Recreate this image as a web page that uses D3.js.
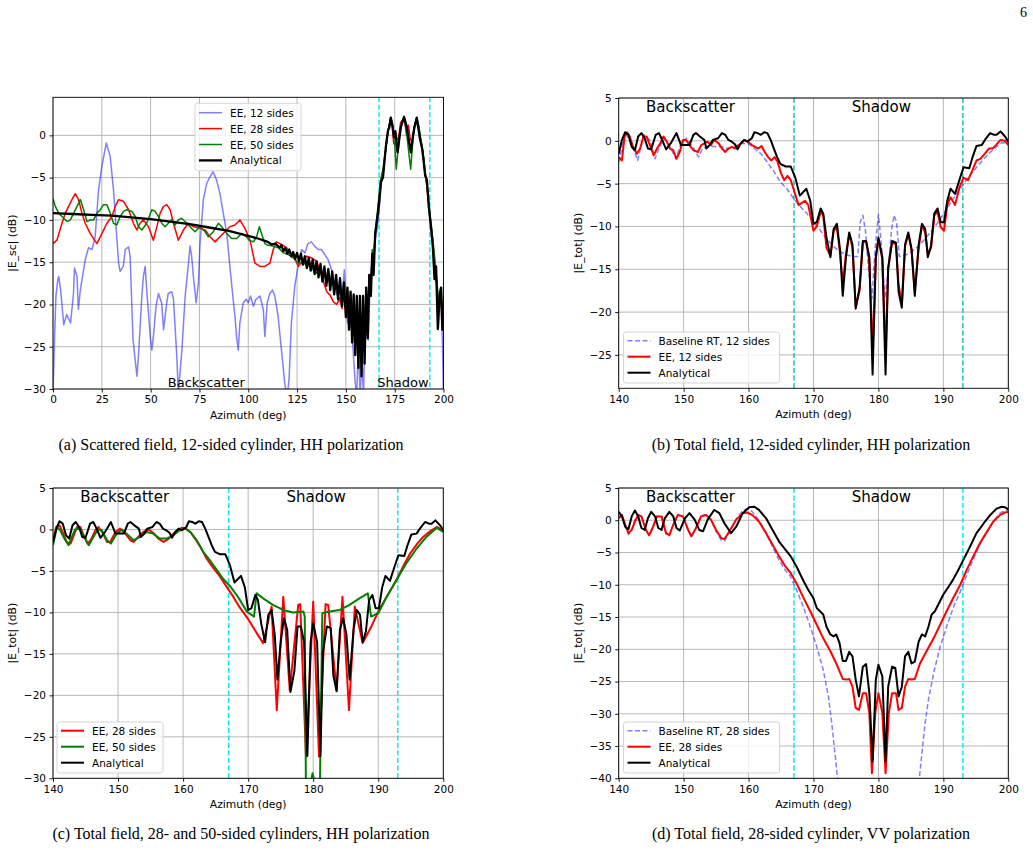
<!DOCTYPE html>
<html>
<head>
<meta charset="utf-8">
<script src="https://cdn.jsdelivr.net/npm/d3@7"></script>
<style>
  body { margin: 0; background: #fff; }
  svg { display: block; }
  text { font-family: "DejaVu Sans", sans-serif; fill: #000; }
  .cap { font-family: "Liberation Serif", "Times New Roman", serif; }
</style>
</head>
<body>
<div id="fig"></div>
<script>
// ---- data: [azimuth deg, dB] ----
const aEE12 = [[0,-30.5],[0.8,-24],[1.5,-19],[2.5,-17],[3,-16.7],[4,-18.5],[5.5,-22.4],[7,-21.2],[9,-22.2],[10.5,-18.7],[11,-15.7],[12.3,-16.7],[13,-20.6],[14,-18.3],[16.5,-14.7],[18.2,-13.3],[20,-13.5],[21.6,-12],[23.3,-6.5],[25,-3.7],[27.3,-0.9],[29.3,-2.5],[31,-6.5],[32.4,-11.2],[33.6,-15.1],[34.4,-16.1],[36,-15.5],[37,-13.5],[38.7,-13.2],[39.5,-14.3],[41,-24.2],[43,-28.5],[43.8,-26],[45.5,-19],[46.3,-16.7],[47.2,-15.5],[48,-18.3],[49.8,-23.8],[50.6,-25.4],[51.4,-23.8],[52.8,-20.2],[54,-18.7],[55.7,-19.9],[56.6,-23],[58.2,-19.9],[59,-18.7],[60.8,-18.5],[61.7,-19.4],[63.4,-26.1],[64.2,-30.5],[66,-25.4],[67.7,-19],[69.4,-15.1],[70.2,-13.1],[71,-14.3],[71.9,-16.7],[73.3,-19.8],[74.5,-17.5],[75.3,-12.8],[77,-7.6],[78.7,-5.7],[80.4,-4.9],[82,-4.3],[83.8,-5.3],[85.5,-6.9],[87.2,-9.2],[89,-11.6],[90.6,-15.5],[92.3,-19.5],[93.2,-21.4],[94,-23.8],[94.9,-25.4],[95.7,-22.2],[97.4,-19.8],[99,-19.4],[100,-19.8],[101.2,-19],[102.6,-20.2],[103.9,-19.4],[106,-19],[107.7,-20.6],[108.5,-23.8],[109.7,-19.8],[111.1,-18.7],[112.4,-18.3],[113.6,-19],[115.3,-21.4],[117,-25.4],[118.7,-29.3],[119.9,-31],[120.9,-28.9],[122.1,-22.2],[123.8,-17.9],[125.5,-15.5],[127.3,-13.5],[129,-13.9],[130.6,-12.8],[132.3,-12.6],[134,-13.1],[135.8,-13.5],[137.5,-13.5],[139.2,-14.1],[140.9,-14.7],[142.7,-15.9],[143.9,-17.1],[145.3,-18.7],[147,-19.8],[148.4,-18.3],[149.2,-15.9],[150.1,-19],[150.8,-22.2],[151.8,-19.8],[153,-23],[153.9,-26.1],[154.8,-29.3],[155.5,-31],[156.5,-24.6],[157.3,-31],[158.2,-26.1],[159,-31],[159.8,-22.2],[160.7,-19],[161.5,-24.2],[162.5,-16.7],[164.2,-13.5],[165.9,-11.2],[167.2,-8.5],[168,-5.5],[169,-5],[170,-2.5],[171,-0.5],[172,1],[173,2.1],[174,1],[175,-0.5],[176,-1.8],[177,-1.5],[178,1],[179.8,2],[181,0],[182,1],[183,-1.8],[184,-1.2],[185,1],[186.3,2],[187.3,1],[188.3,-0.5],[189.5,-2],[190.5,-4.5],[191.5,-5.5],[192.5,-8.5],[193.5,-11],[194.5,-13],[195.5,-16],[196.5,-18],[197.3,-23],[198,-19],[198.8,-20],[199.4,-24],[200,-31]];

const aEE28 = [[0,-12.8],[2,-12.4],[4.6,-10.4],[6.3,-9.2],[8,-8.4],[9.7,-7.6],[11.4,-6.9],[13.1,-7.6],[14.8,-9.2],[16.5,-10.4],[19,-11.6],[22.5,-12.8],[24.2,-12],[25.9,-11.2],[27.6,-10.4],[30.2,-9.6],[31.9,-8.4],[33.6,-7.6],[36.1,-7.8],[38.7,-8.8],[41.2,-10.4],[43,-11.2],[44.6,-10.4],[46.3,-10],[48.9,-10.8],[51.4,-12.4],[53.2,-10.8],[54.9,-9.2],[56.6,-8.4],[58.3,-8.2],[60,-8.8],[61.7,-10.4],[64.2,-12.4],[66.8,-11.2],[69.3,-10.4],[71.9,-10.8],[75.3,-11],[77.9,-11.2],[80.4,-12],[83,-12.6],[85.5,-12],[88.1,-11.4],[90.6,-10.8],[93.2,-10.6],[95.7,-10],[98.3,-11],[100.9,-12.4],[103.4,-15.1],[106,-15.5],[108.5,-15.5],[111.1,-15.1],[112.8,-13.5],[114.5,-12.6],[116.2,-12.8],[117.9,-13],[119.7,-13.3],[121.4,-13.9],[124,-14.7],[125.7,-15.5],[127.3,-15],[129.9,-14.3],[132.5,-14.5],[135.1,-14.9],[136.8,-16.1],[138.5,-17.3],[140.2,-18.5],[141.9,-18.9],[143.6,-19.7],[145.3,-20],[147,-19.2],[148,-20.5],[149,-18.5],[150,-21],[150.8,-18.5],[151.6,-22],[152.4,-19],[153.2,-23.5],[154,-19],[154.8,-25],[155.6,-19.5],[156.4,-26],[157.2,-19.3],[158,-27],[158.8,-19],[159.6,-25],[160.4,-18],[161.2,-22],[162,-16.5],[162.8,-18.5],[163.5,-14],[164.2,-15.5],[165,-11.7],[166,-10],[167,-7.5],[168,-5.5],[169,-4.5],[170,-2.5],[171,-0.5],[172,1],[173,2],[173.8,1],[174.5,-1],[175.3,0.5],[176.2,-0.5],[177,-0.3],[178,1.5],[179.8,2.1],[181,0.5],[182,1.2],[183,-0.5],[184,-0.8],[185,1],[186.3,2],[187.3,1],[188.3,-0.5],[189.5,-2],[190.5,-4.5],[191.5,-6],[192.5,-8.5],[193.5,-10.5],[194.5,-12.5],[195.5,-15],[196.5,-17.5],[197.5,-20],[198.5,-18.5],[199.3,-22],[200,-20.5]];

const aEE50 = [[0,-7.5],[1.2,-8.4],[2.9,-9.2],[5.5,-9.8],[7.2,-10.2],[8.9,-10],[10.6,-9.2],[12.3,-8.4],[14,-7.6],[15.7,-8.8],[17.4,-10.2],[19.1,-10],[20.8,-10],[22.5,-9.2],[24.2,-8.8],[25.9,-8.2],[27.6,-8.2],[29.3,-9.2],[31,-10.4],[32.7,-10.6],[34.4,-9.6],[36.1,-9],[37.8,-8.8],[40.4,-9],[42.1,-9.6],[43.8,-10.8],[45.5,-11.2],[48,-10.4],[50.6,-8.8],[52.3,-9],[54,-9.6],[55.7,-10.4],[57.4,-10.8],[59.1,-10.4],[60.8,-10],[62.5,-10.6],[64.2,-10],[65.9,-9.8],[67.6,-10.2],[70.2,-10.8],[72.7,-11.4],[75.3,-10.8],[77.9,-11.4],[79.6,-12],[82.1,-11.4],[84.7,-10.4],[86.4,-10.8],[89,-11.6],[91.5,-12.2],[94.1,-12.2],[96.6,-11.6],[99.1,-12],[100.5,-12.4],[102.6,-12.6],[104.3,-12],[105.7,-10.8],[106.8,-11.6],[108.5,-12.8],[110.2,-13],[112.8,-13.1],[115.4,-13.3],[118,-13.9],[120.5,-14.1],[123.1,-14.5],[125.7,-15.1],[128.2,-15.1],[131.6,-15.5],[135.1,-16.3],[137,-15.5],[138,-17],[139,-15.8],[140,-17.5],[141,-16],[142,-18],[143,-16.3],[144,-18.6],[145,-16.6],[146,-19.2],[147,-17],[148,-20],[149,-17.5],[150,-21],[150.8,-18],[151.6,-22.5],[152.4,-18.5],[153.2,-24],[154,-18.8],[154.8,-25.5],[155.6,-19],[156.4,-26.5],[157.2,-19],[158,-27.5],[158.8,-19],[159.6,-26],[160.4,-18],[161.2,-23],[162,-16.5],[162.8,-18.5],[163.5,-13.5],[164.2,-15.5],[165,-11.5],[166,-9.5],[167,-7],[168,-5],[169,-4],[170,-2.3],[171,-0.5],[172,1],[173,2.1],[174,1.2],[175,-1],[175.8,-4],[176.6,-2],[177.6,0.5],[178.6,1.5],[179.8,2.1],[181,0.5],[182.2,-2],[183.2,-4],[184,-1.5],[185,1],[186.3,2.1],[187.3,1.2],[188.3,-0.3],[189.5,-2],[190.5,-4],[191.5,-6],[192.5,-8],[193.5,-10.2],[194.5,-12.2],[195.5,-14.5],[196.5,-17],[197.5,-19.5],[198.5,-18],[199.3,-21],[200,-19]];

const aAnalytical = [[0,-9.2],[10,-9.3],[20,-9.4],[30,-9.5],[40,-9.7],[50,-9.9],[60,-10.2],[70,-10.5],[80,-10.9],[90,-11.3],[100,-11.9],[105,-12.2],[110,-12.6],[112,-12.9],[114,-12.8],[116,-13.3],[117,-13.0],[118,-13.7],[119,-13.3],[120,-14.0],[121,-13.5],[122,-14.3],[123,-13.8],[124,-14.6],[125,-13.9],[126,-14.9],[127,-14.0],[128,-15.3],[129,-14.3],[130,-15.7],[131,-14.5],[132,-16.0],[133,-14.7],[134,-16.4],[135,-14.9],[136,-16.8],[137,-15.2],[138,-17.3],[139,-15.5],[140,-17.8],[141,-15.8],[142,-18.3],[143,-16.1],[144,-18.8],[145,-16.5],[146,-19.4],[147,-16.9],[148,-20.2],[149,-17.4],[150,-21.5],[150.8,-18],[151.6,-23],[152.4,-18.5],[153.2,-24.5],[154,-18.8],[154.8,-26],[155.6,-19],[156.4,-27.5],[157.2,-19],[158,-28.5],[158.8,-19],[159.6,-27],[160.4,-18],[161.2,-24],[162,-16.5],[162.8,-19],[163.5,-14],[164.2,-16.5],[165,-11.7],[165.8,-10.2],[166.5,-9],[167.2,-7.5],[168,-5.5],[169,-5],[169.8,-3],[170.5,-1.3],[171.5,0.5],[172.3,1],[173,2.1],[173.8,1.2],[174.6,-0.2],[175.3,0.5],[176.5,-2],[177.3,-0.5],[178.2,1],[179.8,2.2],[181.2,1],[182.1,-0.5],[183.3,-2],[184.2,-0.3],[185,0.8],[186.3,2.1],[187,1],[188,-0.5],[189,-1.5],[189.8,-3],[190.6,-4.7],[191.5,-5.3],[192.5,-8.5],[193.2,-10],[193.9,-11.5],[194.6,-13.4],[195.4,-17],[196.2,-15.5],[197.1,-22.9],[198,-19],[198.8,-18],[199.4,-23],[200,-20]];

// HH analytical total field (same curve in panels b and c)
const analyticalHH = [[140,-1.5],[140.5,0.1],[141,1.0],[141.5,0.7],[142,-0.7],[142.5,-1.1],[143,0.5],[143.5,0.9],[144,0.3],[144.5,-0.9],[145,-1.0],[145.7,0.7],[146.2,0.9],[146.7,0.1],[147.3,-1.0],[148,-0.3],[148.9,0.9],[149.6,-0.5],[150.4,-0.5],[150.9,-0.5],[151.5,0.7],[151.9,0.9],[152.5,0.5],[153.2,0.1],[153.5,-0.9],[154,-0.5],[154.5,0.1],[155.3,0.3],[155.9,0.9],[156.4,0.7],[156.9,0.1],[157.4,-0.1],[157.9,-0.4],[158.3,-1.0],[158.8,-0.3],[159.3,0.1],[159.8,-0.1],[160.5,0.3],[160.9,1.0],[161.4,0.9],[161.9,0.7],[162.4,1.0],[162.9,0.9],[163.4,0.1],[163.9,-0.9],[164.4,-1.9],[164.9,-2.7],[165.7,-3.0],[166.5,-3.0],[167.2,-4.3],[167.9,-6.4],[168.9,-5.6],[169.5,-7],[170,-9.7],[170.5,-9.5],[171.1,-7.9],[171.5,-8.5],[172,-11.3],[172.6,-13.6],[173.1,-10.3],[173.6,-9.7],[174.1,-12.8],[174.5,-18.1],[175,-13.6],[175.5,-10.7],[176,-12.1],[176.5,-19.6],[177.1,-17.1],[177.6,-11.7],[178.1,-11.7],[178.6,-13.6],[179.1,-27.3],[179.6,-13.6],[180,-11.3],[180.6,-13.6],[181.1,-27.3],[181.5,-14.8],[182.1,-11.7],[182.7,-11.9],[183.1,-17.6],[183.6,-19.5],[184.1,-12.1],[184.6,-10.7],[185.1,-12.6],[185.6,-18.1],[186.2,-12.1],[186.7,-9.7],[187.2,-10.3],[187.6,-13.6],[188.1,-12.3],[188.6,-8.5],[189.1,-7.9],[189.6,-9.5],[190.1,-9.5],[190.6,-7],[191.1,-5.6],[191.8,-6.2],[192.5,-4.5],[193.1,-3.1],[194,-3.2],[194.5,-1.9],[195.1,-0.6],[195.9,-0.5],[196.4,0.1],[197.2,0.9],[197.8,0.7],[198.2,0.7],[198.8,1.1],[199.5,0.5],[200,-0.1]];

const bBaseline12 = [[140,-2.5],[141,0.9],[142,-0.3],[142.9,-2.3],[143.9,0.7],[144.8,0.1],[145.6,-2.1],[146.3,-0.7],[147.1,0.3],[147.9,-0.7],[148.8,-2.1],[149.6,-0.3],[150.4,0.3],[151.4,-0.7],[152.3,-1.9],[152.9,-0.9],[153.9,-0.6],[154.9,-0.7],[155.9,-0.7],[156.9,-0.9],[157.9,-0.7],[158.9,-0.3],[159.9,-0.3],[160.9,-0.9],[161.9,-1.5],[162.9,-2.5],[163.9,-3.6],[164.9,-4.8],[165.9,-5.6],[167,-6.8],[168,-7.7],[169,-8.5],[170,-9.5],[171,-10.4],[172,-11.4],[173,-12.3],[174,-12.9],[175,-13.3],[176,-13.5],[176.8,-13.5],[177.2,-9.5],[177.6,-8.7],[178,-10.5],[178.5,-15.2],[179,-18.4],[179.5,-12.5],[180,-8.6],[180.5,-12.5],[181,-18.4],[181.5,-15.2],[182,-10.5],[182.4,-8.7],[182.8,-9.5],[183.2,-13.5],[184,-13.4],[185,-13],[186,-12.4],[187,-11.6],[188,-10.7],[189,-9.7],[190,-8.6],[191,-7.4],[192,-6.2],[193,-5.2],[194,-4.1],[195,-3.2],[196,-2.3],[197,-1.5],[198,-0.8],[199,-0.2],[200,-0.3]];

const bEE12 = [[140,-1.9],[140.5,-2.3],[140.9,0.5],[141.3,1.0],[141.7,0.5],[142.2,-0.7],[142.8,-1.5],[143.3,-0.9],[143.8,0.5],[144.3,0.5],[144.9,-0.7],[145.4,-1.7],[145.9,-0.9],[146.4,-0.3],[146.9,0.5],[147.4,-0.1],[147.9,-0.9],[148.4,-1.1],[148.9,-2.1],[149.4,-1.3],[149.9,0.1],[150.4,0.1],[150.9,-0.5],[151.5,-1.1],[152.2,-1.3],[152.7,-0.5],[153.2,-0.3],[153.7,-0.1],[154.2,-0.5],[154.7,0.1],[155.4,-0.3],[155.9,-0.9],[156.4,-1.3],[156.9,-0.9],[157.4,-0.7],[157.9,-0.9],[158.4,-0.5],[158.9,-0.3],[159.4,0.1],[159.9,-0.1],[160.5,-0.5],[161,-0.7],[161.5,-0.9],[162,-0.6],[162.5,-1.3],[163,-1.9],[163.5,-2.3],[164,-1.9],[164.5,-2.5],[165,-3.8],[165.5,-4.6],[166,-4.1],[166.5,-4.6],[167,-5.8],[167.7,-7.5],[168.7,-7],[169.2,-7.5],[170,-10.5],[170.5,-10],[171.1,-8.3],[171.5,-8.7],[172,-12.5],[172.6,-13.4],[173.1,-10.5],[173.6,-10.1],[174.1,-13.2],[174.5,-16.7],[175,-13.2],[175.5,-10.9],[176,-12.5],[176.5,-19.4],[177.1,-17.5],[177.6,-11.9],[178.1,-11.7],[178.6,-14],[179.1,-24.5],[179.6,-13.6],[180,-11.5],[180.6,-13.8],[181.1,-24.9],[181.5,-15],[182.1,-11.9],[182.7,-12.1],[183.1,-16.7],[183.6,-19.1],[184.1,-12.3],[184.6,-10.9],[185.1,-12.8],[185.6,-17.5],[186.2,-12.5],[186.7,-9.9],[187.2,-10.7],[187.6,-13.2],[188.1,-12.5],[188.6,-8.7],[189.1,-8.3],[189.6,-10.1],[190.1,-10.5],[190.6,-7.5],[191.1,-6.6],[191.8,-7.5],[192.5,-5.4],[193.1,-4.3],[193.8,-4.6],[194.5,-3.4],[195.1,-2.3],[195.7,-2.1],[196.4,-1.5],[197,-0.9],[197.6,-0.9],[198.1,-0.5],[198.8,0.1],[199.5,0],[200,-0.5]];

const cEE28 = [[140,-1.5],[140.5,0.3],[141,0.5],[141.6,-0.5],[142.1,-1.5],[142.7,-1.7],[143.2,-0.7],[143.7,0.3],[144.2,0.3],[144.7,-0.7],[145.3,-1.7],[145.8,-1.3],[146.5,-0.1],[147,0.3],[147.7,-0.5],[148.3,-1.5],[148.8,-1.5],[149.6,-0.3],[150.3,0.1],[151.1,-0.5],[151.9,-1.3],[152.4,-1.5],[153.1,-0.9],[153.9,-0.3],[154.7,0],[155.4,-0.4],[156.2,-1.1],[157,-1.5],[157.8,-1.1],[158.5,-0.5],[159.3,0],[159.8,0.2],[160.5,0.1],[161.3,-0.5],[162,-1.3],[162.8,-2.3],[163.6,-3.5],[164.6,-4.6],[165.6,-5.6],[166.6,-6.8],[167.7,-8.1],[168.7,-9.4],[170,-10.8],[171,-12.1],[172.3,-13.7],[173.6,-9.3],[174.4,-21.8],[175.4,-8.1],[176.4,-19.4],[177.7,-9.1],[178,-9],[178.9,-27.4],[180,-8.7],[180.9,-27.4],[181.9,-9],[182.3,-9.1],[183.6,-19.4],[184.5,-8.1],[185.5,-21.8],[186.4,-9.3],[187.6,-13.7],[189,-11.6],[190,-9.9],[191.4,-8],[192.8,-6.1],[194,-4.2],[194.9,-2.9],[196,-1.7],[196.9,-0.9],[198,-0.2],[199,0.3],[200,-0.1]];

const cEE50 = [[140,-1.9],[140.6,0.3],[141.1,-0.1],[141.9,-1.3],[142.4,-1.9],[142.9,-0.9],[143.4,0],[144.1,0.1],[144.7,-0.7],[145.5,-1.9],[146.2,-0.9],[146.9,0],[147.5,-0.1],[148.3,-1.3],[148.9,-1.7],[149.8,-0.5],[150.6,0],[151.3,-0.5],[152.4,-1.3],[153.4,-0.9],[154.4,-0.3],[155.4,-0.5],[156.4,-1.1],[157.5,-1.1],[158.5,-0.7],[159.5,-0.1],[160.3,0.1],[161.1,-0.3],[162.1,-1.3],[163.1,-2.7],[164.1,-3.7],[165.2,-4.9],[166.2,-6.0],[167.2,-6.8],[168.5,-8.2],[169.8,-9.9],[170.9,-10.5],[171.3,-7.7],[172.3,-8.3],[173.8,-9.1],[175.4,-9.7],[176.9,-10],[178.5,-9.9],[178.7,-10.5],[178.9,-33],[179.5,-31],[179.9,-29.4],[180.4,-31],[181,-33],[181.4,-10.1],[182.5,-9.9],[184.1,-9.7],[185.6,-9.1],[187.1,-8.3],[188.4,-7.7],[188.9,-10.5],[190,-10.1],[191.3,-8.1],[192.8,-6.1],[194.3,-4.1],[195.9,-2.3],[197.4,-0.9],[199,0.2],[200,-0.3]];

const dBaseline28 = [[140,0.5],[140.5,0.9],[141,-0.8],[141.5,-2.2],[142,-1.5],[142.5,0],[143,0.9],[143.5,0.6],[144.2,-1.6],[144.7,-2.4],[145.3,-1],[145.9,0.7],[146.6,0.6],[147.3,-2.1],[147.8,-2.4],[148.4,-0.7],[149.1,0.9],[149.9,0.6],[150.7,-1.6],[151.2,-2.6],[151.9,-1.2],[152.7,0.7],[153.5,0.9],[154.2,0.1],[155,-1.7],[155.8,-3.1],[156.3,-3.2],[157,-2],[158.1,0.2],[159.1,1.5],[159.8,1.8],[160.6,1.3],[161.6,0],[162.7,-2],[163.7,-4.1],[164.7,-6.2],[165.7,-7.8],[166.4,-8.6],[167.4,-10.8],[168.5,-13.6],[169.5,-16.5],[170.5,-19.6],[171.5,-23.2],[172.3,-27.3],[172.8,-31.4],[173.3,-36.1],[173.7,-40],[174,-43],[186,-43],[186.3,-40],[186.7,-36.1],[187.2,-31.4],[187.7,-27.8],[188.5,-23.7],[189.5,-19.6],[190.5,-16.5],[191.5,-13.6],[192.6,-11.1],[193.6,-8.5],[194.6,-6.1],[195.6,-3.8],[196.7,-1.8],[197.7,-0.2],[198.7,1.1],[199.5,1.5],[200,1.5]];

const dEE28 = [[140,0.3],[140.5,0.8],[141,-0.7],[141.5,-2],[142,-1.5],[142.5,-0.2],[143,0.8],[143.5,0.6],[144.2,-1.5],[144.7,-2.3],[145.3,-1],[145.9,0.6],[146.6,0.6],[147.3,-2],[147.8,-2.3],[148.4,-0.7],[149.1,0.8],[149.9,0.6],[150.7,-1.5],[151.2,-2.5],[151.9,-1.2],[152.7,0.6],[153.5,0.8],[154.2,0.1],[155,-1.5],[155.8,-2.8],[156.3,-2.9],[157,-1.8],[158.1,0.1],[159.1,1.1],[159.8,1.2],[160.6,0.8],[161.6,-0.2],[162.7,-2],[163.7,-3.8],[164.7,-5.6],[165.7,-7.2],[166.5,-8.2],[167.4,-9.8],[168.5,-12.1],[169.5,-14.1],[170.5,-16.2],[171.5,-18.3],[172.6,-20.3],[173.6,-22.4],[174.5,-24.6],[175.1,-24.7],[175.5,-24.6],[176,-25.8],[176.5,-29.1],[177,-29.4],[177.6,-26.8],[178.1,-26.8],[178.6,-29.9],[179,-39.2],[179.5,-29.9],[180,-26.8],[180.6,-29.9],[181.1,-39.2],[181.6,-29.9],[182.1,-26.8],[182.7,-26.8],[183.1,-29.4],[183.6,-29.1],[184.1,-25.8],[184.6,-24.6],[185.1,-24.7],[185.6,-24.6],[186.4,-22.2],[187.4,-20.3],[188.5,-18.3],[189.5,-16.2],[190.5,-14.1],[191.5,-12.1],[192.6,-10],[193.6,-7.7],[194.6,-5.6],[195.6,-3.6],[196.7,-1.8],[197.7,-0.2],[198.7,0.8],[199.5,1.2],[200,1.3]];

const dAnalyticalVV = [[140,1.3],[140.5,0.6],[141,-1],[141.5,-1.4],[142,0.6],[142.5,1.5],[143,0.6],[143.5,-1.2],[144,-1.5],[144.5,0.3],[145,1.3],[145.6,0.6],[146.1,-1.2],[146.6,-1.5],[147.1,0.3],[147.8,1.3],[148.4,0.6],[148.9,-1.2],[149.4,-1.6],[150.2,0.3],[150.9,1.1],[151.7,0.1],[152.4,-1.5],[153,-1.7],[153.7,0.1],[154.7,1.6],[155.5,1.1],[156.3,-0.5],[157.3,-2],[158.1,-1],[159.1,1.1],[160.1,2],[160.9,2.1],[161.6,1.6],[162.7,0.3],[163.7,-1.5],[164.7,-3.3],[165.7,-4.6],[166.5,-5.6],[167.4,-7.2],[168.5,-9.5],[169.2,-10.8],[170,-12.1],[170.5,-13.6],[171,-14.1],[171.5,-14.6],[172,-16.5],[172.6,-17.7],[173.1,-18],[173.5,-17.7],[174,-19],[174.5,-21.8],[175,-21.8],[175.5,-20.4],[176,-21.1],[176.5,-24.7],[177,-27.3],[177.6,-22.7],[178.1,-22.3],[178.6,-26.8],[179.1,-37.4],[179.6,-24.7],[180,-22.4],[180.6,-24.2],[181.1,-37.4],[181.5,-25.8],[182.1,-22.7],[182.6,-22.9],[183.1,-27.3],[183.6,-25.8],[184.1,-21.1],[184.6,-20.4],[185.1,-22.2],[185.6,-21.9],[186.2,-18.8],[186.7,-17.7],[187.2,-18],[187.7,-16.5],[188.2,-14.6],[188.7,-14.1],[189.2,-13.1],[190,-11.5],[190.8,-10.3],[191.5,-9.2],[192.3,-7.7],[193.1,-6.1],[194.1,-4.1],[195.1,-2],[196.2,-0.5],[197.2,0.8],[198.2,1.8],[199,2.1],[199.5,2],[200,1.7]];

const shadowEdges = [167, 193];
const ticksWide = [0, 25, 50, 75, 100, 125, 150, 175, 200];
const ticksZoom = [140, 150, 160, 170, 180, 190, 200];
const captions = [
  "(a) Scattered field, 12-sided cylinder, HH polarization",
  "(b) Total field, 12-sided cylinder, HH polarization",
  "(c) Total field, 28- and 50-sided cylinders, HH polarization",
  "(d) Total field, 28-sided cylinder, VV polarization"
];

// ---- drawing ----
const svg = d3.select("#fig").append("svg").attr("width", 1033).attr("height", 850);
svg.append("rect").attr("width", 1033).attr("height", 850).attr("fill", "#fff");

const BLUE = "#0000ff", RED = "#ff0000", GREEN = "#008000", BLACK = "#000000";
const fmt = d3.format("d");

function drawPanel(p) {
  const x = d3.scaleLinear().domain(p.xDomain).range([p.left, p.left + p.width]);
  const y = d3.scaleLinear().domain(p.yDomain).range([p.top + p.height, p.top]);
  const bottom = p.top + p.height;
  const g = svg.append("g");

  // grid
  g.append("g").selectAll("line").data(p.xTicks).join("line")
    .attr("x1", d => x(d)).attr("x2", d => x(d))
    .attr("y1", p.top).attr("y2", bottom)
    .attr("stroke", "#b0b0b0").attr("stroke-width", 0.9);
  g.append("g").selectAll("line").data(p.yTicks).join("line")
    .attr("x1", p.left).attr("x2", p.left + p.width)
    .attr("y1", d => y(d)).attr("y2", d => y(d))
    .attr("stroke", "#b0b0b0").attr("stroke-width", 0.9);

  const clipId = "clip-" + p.id;
  svg.append("clipPath").attr("id", clipId).append("rect")
    .attr("x", p.left).attr("y", p.top).attr("width", p.width).attr("height", p.height);
  const plot = g.append("g").attr("clip-path", `url(#${clipId})`);

  // shadow boundary markers
  plot.selectAll(".edge").data(shadowEdges).join("line")
    .attr("x1", d => x(d)).attr("x2", d => x(d))
    .attr("y1", p.top).attr("y2", bottom)
    .attr("stroke", p.edgeColor).attr("stroke-width", 1.4)
    .attr("stroke-dasharray", "5,2.5");

  const line = d3.line().x(d => x(d[0])).y(d => y(d[1]));
  p.series.forEach(s => {
    plot.append("path").datum(s.data)
      .attr("d", line)
      .attr("fill", "none")
      .attr("stroke", s.color)
      .attr("stroke-opacity", s.opacity || 1)
      .attr("stroke-width", s.width)
      .attr("stroke-dasharray", s.dash || null)
      .attr("stroke-linejoin", "round");
  });

  // frame
  g.append("rect").attr("x", p.left).attr("y", p.top)
    .attr("width", p.width).attr("height", p.height)
    .attr("fill", "none").attr("stroke", "#000").attr("stroke-width", 0.9);

  // axes
  const ax = g.append("g").attr("transform", `translate(0,${bottom})`)
    .call(d3.axisBottom(x).tickValues(p.xTicks).tickSize(3.5).tickPadding(3.5).tickFormat(fmt));
  const ay = g.append("g").attr("transform", `translate(${p.left},0)`)
    .call(d3.axisLeft(y).tickValues(p.yTicks).tickSize(3.5).tickPadding(3.5).tickFormat(fmt));
  [ax, ay].forEach(a => {
    a.select(".domain").remove();
    a.selectAll("line").attr("stroke", "#000").attr("stroke-width", 0.9);
    a.selectAll("text").attr("font-size", 10.5).attr("font-family", "DejaVu Sans").attr("fill", "#000");
  });

  g.append("text").attr("x", p.left + p.width / 2).attr("y", bottom + 26)
    .attr("text-anchor", "middle").attr("dominant-baseline", "central")
    .attr("font-size", 10.8).text("Azimuth (deg)");
  g.append("text")
    .attr("transform", `translate(${p.left - 40.5},${p.top + p.height / 2}) rotate(-90)`)
    .attr("text-anchor", "middle").attr("dominant-baseline", "central")
    .attr("font-size", 10.8).text(p.ylabel);

  // region labels
  p.regions.forEach(r => {
    g.append("text").attr("x", x(r.at)).attr("y", r.top ? p.top + r.dy : bottom - r.dy)
      .attr("font-size", r.size).text(r.text);
  });

  // legend
  const L = p.legend;
  const lg = g.append("g");
  lg.append("rect").attr("x", L.x).attr("y", L.y).attr("width", L.w).attr("height", L.h)
    .attr("rx", 2.5).attr("fill", "#fff").attr("fill-opacity", 0.8)
    .attr("stroke", "#d0d0d0").attr("stroke-width", 0.9);
  L.items.forEach((s, i) => {
    const yy = L.y + L.first + i * L.step;
    lg.append("line").attr("x1", L.x + 4).attr("x2", L.x + 27).attr("y1", yy).attr("y2", yy)
      .attr("stroke", s.color).attr("stroke-opacity", s.opacity || 1)
      .attr("stroke-width", s.width).attr("stroke-dasharray", s.dash || null);
    lg.append("text").attr("x", L.x + 35).attr("y", yy).attr("dominant-baseline", "central")
      .attr("font-size", 10.5).text(s.label);
  });
}

const sA = [
  { data: aEE12, color: BLUE, opacity: 0.5, width: 1.5, label: "EE, 12 sides" },
  { data: aEE28, color: RED, width: 1.5, label: "EE, 28 sides" },
  { data: aEE50, color: GREEN, width: 1.5, label: "EE, 50 sides" },
  { data: aAnalytical, color: BLACK, width: 2.3, label: "Analytical" }
];
const sB = [
  { data: bBaseline12, color: BLUE, opacity: 0.5, width: 1.5, dash: "5,2.5", label: "Baseline RT, 12 sides" },
  { data: bEE12, color: RED, width: 2, label: "EE, 12 sides" },
  { data: analyticalHH, color: BLACK, width: 2, label: "Analytical" }
];
const sC = [
  { data: cEE28, color: RED, width: 2, label: "EE, 28 sides" },
  { data: cEE50, color: GREEN, width: 2, label: "EE, 50 sides" },
  { data: analyticalHH, color: BLACK, width: 2, label: "Analytical" }
];
const sD = [
  { data: dBaseline28, color: BLUE, opacity: 0.5, width: 1.5, dash: "5,2.5", label: "Baseline RT, 28 sides" },
  { data: dEE28, color: RED, width: 2, label: "EE, 28 sides" },
  { data: dAnalyticalVV, color: BLACK, width: 2, label: "Analytical" }
];

const zoomRegions = [
  { text: "Backscatter", at: 144.2, top: true, dy: 13.5, size: 15 },
  { text: "Shadow", at: 175.9, top: true, dy: 13.5, size: 15 }
];
function rangeStep(a, b, s) { return d3.range(a, b - 0.001 * Math.sign(s), s).concat([b]); }

drawPanel({ id: "a", left: 53, top: 97.3, width: 390.5, height: 291.7,
  xDomain: [0, 200], yDomain: [-30, 4.5], xTicks: ticksWide, yTicks: rangeStep(0, -30, -5),
  ylabel: "|E_sc| (dB)", edgeColor: "#00e8f0", series: sA,
  regions: [{ text: "Backscatter", at: 58.8, top: false, dy: 2.5, size: 13 },
            { text: "Shadow", at: 166.1, top: false, dy: 2.5, size: 13 }],
  legend: { x: 195, y: 103.3, w: 106, h: 67.5, first: 9.4, step: 15.9, items: sA } });

drawPanel({ id: "b", left: 618.7, top: 98, width: 389.6, height: 290.3,
  xDomain: [140, 200], yDomain: [-28.9, 5], xTicks: ticksZoom, yTicks: rangeStep(5, -25, -5),
  ylabel: "|E_tot| (dB)", edgeColor: "#17b9b9", series: sB, regions: zoomRegions,
  legend: { x: 623.5, y: 332, w: 156, h: 51, first: 8.7, step: 16, items: sB } });

drawPanel({ id: "c", left: 53, top: 488, width: 390.3, height: 290.3,
  xDomain: [140, 200], yDomain: [-30, 5], xTicks: ticksZoom, yTicks: rangeStep(5, -30, -5),
  ylabel: "|E_tot| (dB)", edgeColor: "#00e8f0", series: sC, regions: zoomRegions,
  legend: { x: 57, y: 722, w: 106, h: 51, first: 8.7, step: 16, items: sC } });

drawPanel({ id: "d", left: 618.7, top: 488, width: 389.6, height: 290.3,
  xDomain: [140, 200], yDomain: [-40, 5], xTicks: ticksZoom, yTicks: rangeStep(5, -40, -5),
  ylabel: "|E_tot| (dB)", edgeColor: "#00e8f0", series: sD, regions: zoomRegions,
  legend: { x: 623.5, y: 722, w: 156, h: 51, first: 8.7, step: 16, items: sD } });

// captions and page number
const capPos = [[231, 450], [811, 450], [241, 839], [811, 839]];
svg.selectAll(".cap").data(captions).join("text")
  .attr("class", "cap")
  .attr("x", (d, i) => capPos[i][0]).attr("y", (d, i) => capPos[i][1])
  .attr("text-anchor", "middle").attr("font-size", 16)
  .text(d => d);
svg.append("text").attr("class", "cap").attr("x", 1027).attr("y", 17)
  .attr("text-anchor", "end").attr("font-size", 14).text("6");
</script>
</body>
</html>
